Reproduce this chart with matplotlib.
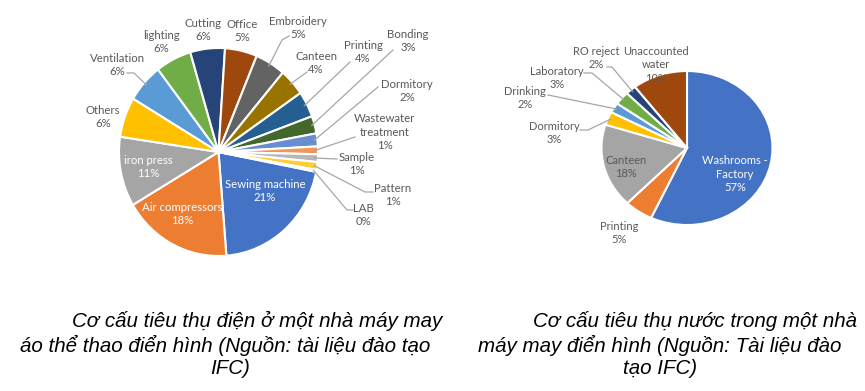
import numpy as np
import matplotlib.pyplot as plt

# Điện - cơ cấu tiêu thụ (thứ tự như Excel, bắt đầu từ Sewing machine)
dien_ten = ['Sewing machine', 'Air compressors', 'iron press', 'Others', 'Ventilation',
            'lighting', 'Cutting', 'Office', 'Embroidery', 'Canteen', 'Printing',
            'Bonding', 'Dormitory', 'Wastewater\ntreatment', 'Sample', 'Pattern', 'LAB']
dien_gt = [20.6, 17.7, 10.8, 6.2, 6.0, 5.8, 5.6, 5.2, 4.9, 4.2, 4.0,
           2.7, 2.0, 1.2, 1.2, 1.2, 0.3]
dien_pct = ['21%', '18%', '11%', '6%', '6%', '6%', '6%', '5%', '5%', '4%', '4%',
            '3%', '2%', '1%', '1%', '1%', '0%']

# Nước - cơ cấu tiêu thụ
nuoc_ten = ['Washrooms -\nFactory', 'Printing', 'Canteen', 'Dormitory', 'Drinking',
            'Laboratory', 'RO reject', 'Unaccounted\nwater']
nuoc_gt = [56.9, 5.4, 17.6, 2.8, 2.1, 2.8, 2.0, 10.4]
nuoc_pct = ['57%', '5%', '18%', '3%', '2%', '3%', '2%', '10%']

office = ['#4472C4', '#ED7D31', '#A5A5A5', '#FFC000', '#5B9BD5', '#70AD47', '#264478',
          '#9E480E', '#636363', '#997300', '#255E91', '#43682B', '#698ED0', '#F1975A',
          '#B7B7B7', '#FFCD33', '#7CAFDD']

W, H = 865, 391
fig = plt.figure(figsize=(W / 100, H / 100), dpi=100)

TXT = '#595959'
LINE = '#A6A6A6'
FONT = 'Lato'


def pie_axes(cx, cy, rx, ry):
    # ảnh gốc bị kéo giãn nên pie là hình elip: axes riêng, tỉ lệ tự do
    a = fig.add_axes([(cx - rx) / W, (H - cy - ry) / H, 2 * rx / W, 2 * ry / H])
    return a


def y(v):
    return H - v


# ---- pie trái ----
P1 = (218.5, 152, 99.5, 104)
ax1 = pie_axes(*P1)
w1, _ = ax1.pie(dien_gt, colors=office[:len(dien_gt)], radius=1,
                startangle=-11, counterclock=False,
                wedgeprops=dict(edgecolor='white', linewidth=1.5))

# ---- pie phải ----
P2 = (687, 148, 85.5, 77)
ax2 = pie_axes(*P2)
w2, _ = ax2.pie(nuoc_gt, colors=office[:len(nuoc_gt)], radius=1,
                startangle=90, counterclock=False,
                wedgeprops=dict(edgecolor='white', linewidth=1.5))

for a in (ax1, ax2):
    a.set_xlim(-1, 1)
    a.set_ylim(-1, 1)
    a.set_aspect('auto')
    a.axis('off')

# lớp phủ tọa độ pixel cho nhãn và đường dẫn
ax = fig.add_axes([0, 0, 1, 1])
ax.set_xlim(0, W)
ax.set_ylim(0, H)
ax.axis('off')


def edge(w, P, frac=0.97):
    cx, cy, rx, ry = P
    t = np.deg2rad((w.theta1 + w.theta2) / 2)
    return cx + rx * frac * np.cos(t), y(cy) + ry * frac * np.sin(t)


# vị trí nhãn (pixel ảnh), màu chữ, đường dẫn (các điểm trung gian)
nhan1 = {
    'Sewing machine': ((265, 191), 'white', None),
    'Air compressors': ((182, 214), 'white', None),
    'iron press': ((148, 167), 'white', None),
    'Others': ((103, 117), TXT, None),
    'Ventilation': ((117, 65), TXT, [(127, 73), (134, 73)]),
    'lighting': ((161, 42), TXT, None),
    'Cutting': ((203, 30), TXT, None),
    'Office': ((242, 31), TXT, None),
    'Embroidery': ((298, 28), TXT, [(289, 36), (282, 40)]),
    'Canteen': ((316, 63), TXT, [(307, 72)]),
    'Printing': ((363, 52), TXT, [(350, 62)]),
    'Bonding': ((408, 41), TXT, [(393, 50)]),
    'Dormitory': ((407, 91), TXT, [(378, 87)]),
    'Wastewater\ntreatment': ((385, 132), TXT, [(355, 137)]),
    'Sample': ((357, 164), TXT, [(337, 159)]),
    'Pattern': ((393, 195), TXT, [(373, 192), (365, 192)]),
    'LAB': ((363, 215), TXT, [(353, 210), (347, 210)]),
}
for w, ten, pct in zip(w1, dien_ten, dien_pct):
    (lx, ly), col, dan = nhan1[ten]
    ax.text(lx, y(ly), f'{ten}\n{pct}', ha='center', va='center', color=col,
            fontsize=8.2, family=FONT, linespacing=1.3)
    if dan:
        pts = [(px, y(py)) for px, py in dan] + [edge(w, P1)]
        xs, ys = zip(*pts)
        ax.plot(xs, ys, color=LINE, lw=0.9)

nhan2 = {
    'Washrooms -\nFactory': ((735, 174), 'white', None),
    'Printing': ((619, 233), TXT, None),
    'Canteen': ((626, 167), TXT, None),
    'Dormitory': ((554, 133), TXT, [(580, 130), (588, 130)]),
    'Drinking': ((525, 98), TXT, [(548, 95)]),
    'Laboratory': ((557, 78), TXT, [(584, 73), (592, 73)]),
    'RO reject': ((596, 58), TXT, [(607, 67), (612, 67)]),
    'Unaccounted\nwater': ((656, 65), TXT, None),
}
for w, ten, pct in zip(w2, nuoc_ten, nuoc_pct):
    (lx, ly), col, dan = nhan2[ten]
    ax.text(lx, y(ly), f'{ten}\n{pct}', ha='center', va='center', color=col,
            fontsize=8, family=FONT, linespacing=1.3)
    if dan:
        pts = [(px, y(py)) for px, py in dan] + [edge(w, P2)]
        xs, ys = zip(*pts)
        ax.plot(xs, ys, color=LINE, lw=0.9)

# ---- chú thích ----
cap = dict(fontsize=14.8, style='italic', family=['Liberation Sans', 'DejaVu Sans'],
           color='black', va='center')
ax.text(72, y(321), 'Cơ cấu tiêu thụ điện ở một nhà máy may', ha='left', **cap)
ax.text(20, y(345), 'áo thể thao điển hình (Nguồn: tài liệu đào tạo', ha='left', **cap)
ax.text(230, y(368), 'IFC)', ha='center', **cap)
ax.text(533, y(321), 'Cơ cấu tiêu thụ nước trong một nhà', ha='left', **cap)
ax.text(478, y(345), 'máy may điển hình (Nguồn: Tài liệu đào', ha='left', **cap)
ax.text(660, y(368), 'tạo IFC)', ha='center', **cap)

fig.savefig('out.png', dpi=100)
